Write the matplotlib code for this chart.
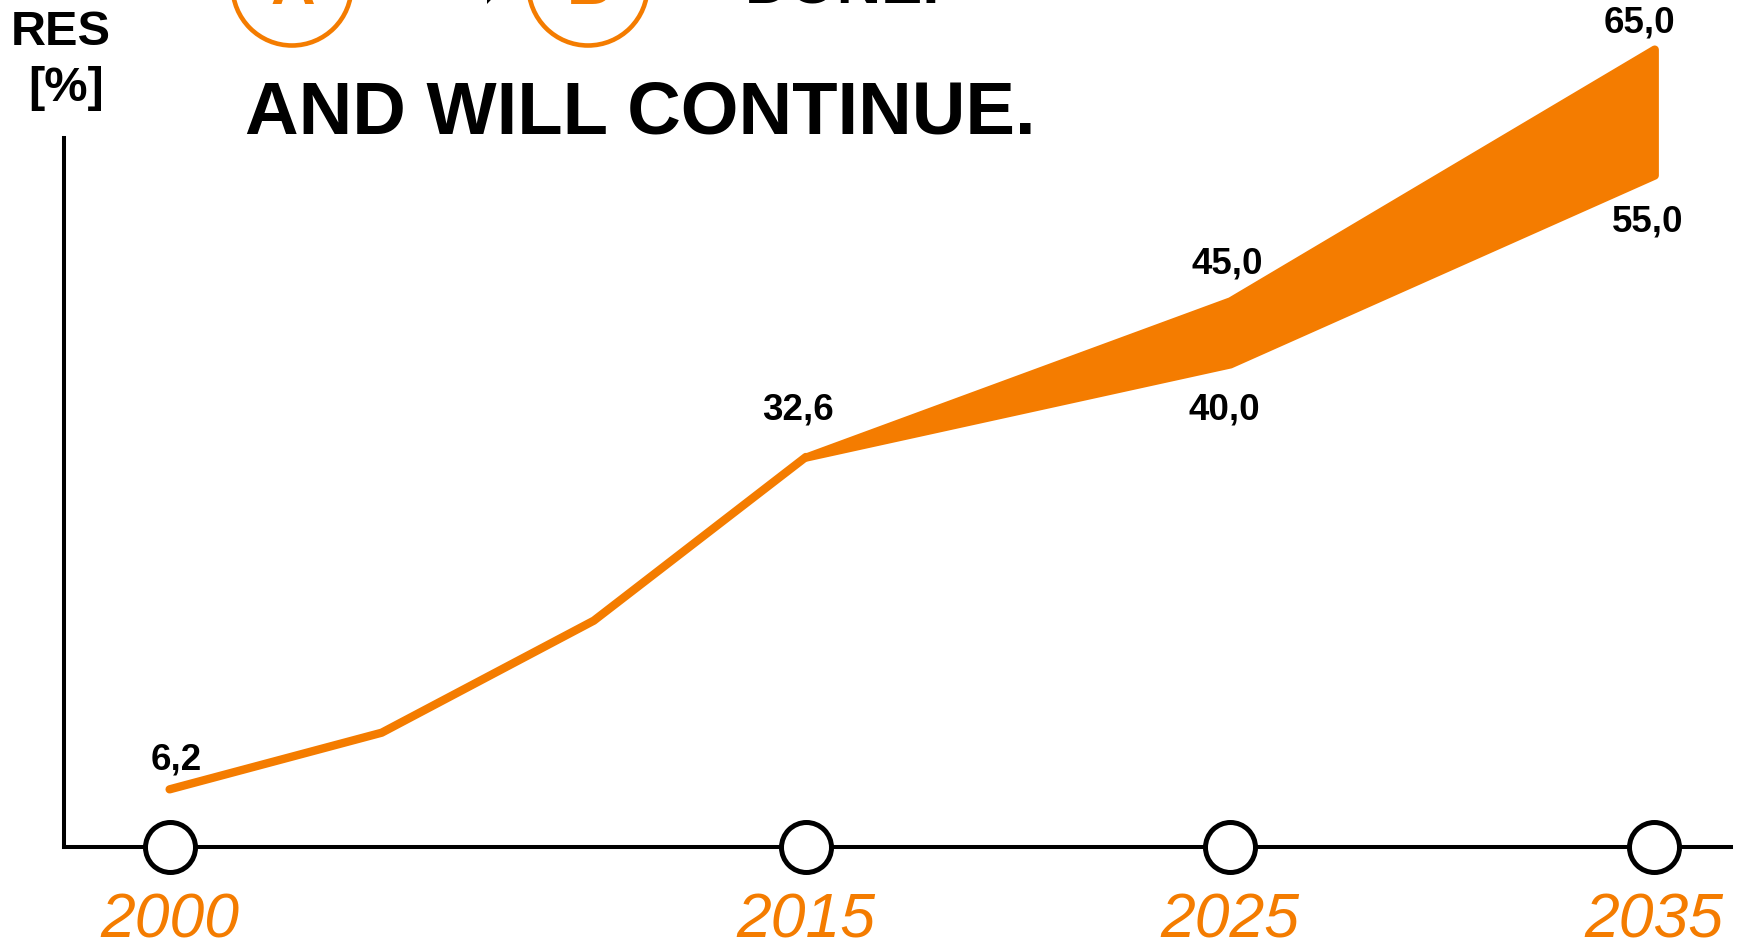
import matplotlib
matplotlib.use("Agg")
import matplotlib.pyplot as plt
from matplotlib.patches import Circle, Polygon
from matplotlib.transforms import IdentityTransform

plt.rcParams['font.family'] = ['Liberation Sans', 'DejaVu Sans']

# Share of renewable energy sources (RES) in percent
hist_years = [2000, 2005, 2010, 2015]
hist_values = [6.2, 10.7, 19.6, 32.6]

# Target corridor (lower / upper bound)
target_years = [2015, 2025, 2035]
target_low = [32.6, 40.0, 55.0]
target_high = [32.6, 45.0, 65.0]

tick_years = [2000, 2015, 2025, 2035]
tick_labels = ['2000', '2015', '2025', '2035']

ORANGE = '#F47C00'
W, H = 1741, 951
DPI = 100


def px(x, y_top):
    """Pixel position measured from the top-left corner -> display coords."""
    return x, H - y_top


def fmt(v):
    return f"{v:.1f}".replace('.', ',')


fig = plt.figure(figsize=(W / DPI, H / DPI), dpi=DPI)
fig.patch.set_facecolor('white')

# axes frame in pixels (left, right, bottom, top), measured from the top-left
ax_l, ax_r, ax_b, ax_t = 64, 1731, 847, 138
ax = fig.add_axes([ax_l / W, 1 - ax_b / H, (ax_r - ax_l) / W, (ax_b - ax_t) / H])
ax.set_xlim(1997.51, 2036.81)
ax.set_ylim(1.62, 57.94)
ax.patch.set_alpha(0)

for side in ('top', 'right'):
    ax.spines[side].set_visible(False)
for side in ('left', 'bottom'):
    ax.spines[side].set_linewidth(2.9)
    ax.spines[side].set_color('black')

ax.set_yticks([])
ax.set_xticks(tick_years, tick_labels)
ax.tick_params(axis='x', length=0, pad=32, labelsize=45, labelcolor=ORANGE)
for lbl in ax.get_xticklabels():
    lbl.set_fontstyle('italic')

# historical development
ax.plot(hist_years, hist_values, color=ORANGE, lw=6,
        solid_capstyle='round', solid_joinstyle='round', clip_on=False, zorder=3)

# target corridor
band = ax.fill_between(target_years, target_low, target_high,
                       facecolor=ORANGE, edgecolor=ORANGE, linewidth=6,
                       clip_on=False, zorder=3)
band.set_joinstyle('round')

# year markers on the time axis
ax.plot(tick_years, [0] * len(tick_years), transform=ax.get_xaxis_transform(),
        ls='none', marker='o', ms=36, mfc='white', mec='black', mew=3.6,
        clip_on=False, zorder=5)

# value labels
label_points = [
    (hist_years[0], hist_values[0]),
    (hist_years[-1], hist_values[-1]),
    (target_years[1], target_high[1]),
    (target_years[1], target_low[1]),
    (target_years[2], target_high[2]),
    (target_years[2], target_low[2]),
]
label_offsets = [(5, 14), (-6, 27), (-2, 20), (-4, -40), (-11, 12), (-5, -40.5)]
for (x, v), off in zip(label_points, label_offsets):
    ax.annotate(fmt(v), xy=(x, v), xytext=off, textcoords='offset points',
                ha='center', va='baseline', fontsize=26.5, fontweight='bold',
                color='black', annotation_clip=False, zorder=6)

ident = IdentityTransform()

# axis title
fig.text(*px(61, 45), 'RES', transform=ident, ha='center', va='baseline',
         fontsize=35, fontweight='bold', color='black')
fig.text(*px(66, 101), '[%]', transform=ident, ha='center', va='baseline',
         fontsize=35, fontweight='bold', color='black')

# headline
for cx, letter in ((292, 'A'), (588, 'B')):
    fig.add_artist(Circle(px(cx, -14), 59.5, transform=ident, fill=False,
                          edgecolor=ORANGE, linewidth=3.3))
    fig.text(*px(cx + 1, 4), letter, transform=ident, ha='center', va='baseline',
             fontsize=44.5, fontweight='bold', color=ORANGE)

arrow_pts = [px(372, -28), px(487, -28), px(487, 4), px(512, -22),
             px(487, -48), px(487, -16), px(372, -16)]
fig.add_artist(Polygon(arrow_pts, closed=True, transform=ident,
                       facecolor='black', edgecolor='none'))

fig.text(*px(745, 4), 'DONE.', transform=ident, ha='left', va='baseline',
         fontsize=44.5, fontweight='bold', color='black')
fig.text(*px(245, 133), 'AND WILL CONTINUE.', transform=ident, ha='left',
         va='baseline', fontsize=53.5, fontweight='bold', color='black')

fig.savefig('out.png', dpi=DPI, facecolor='white')
